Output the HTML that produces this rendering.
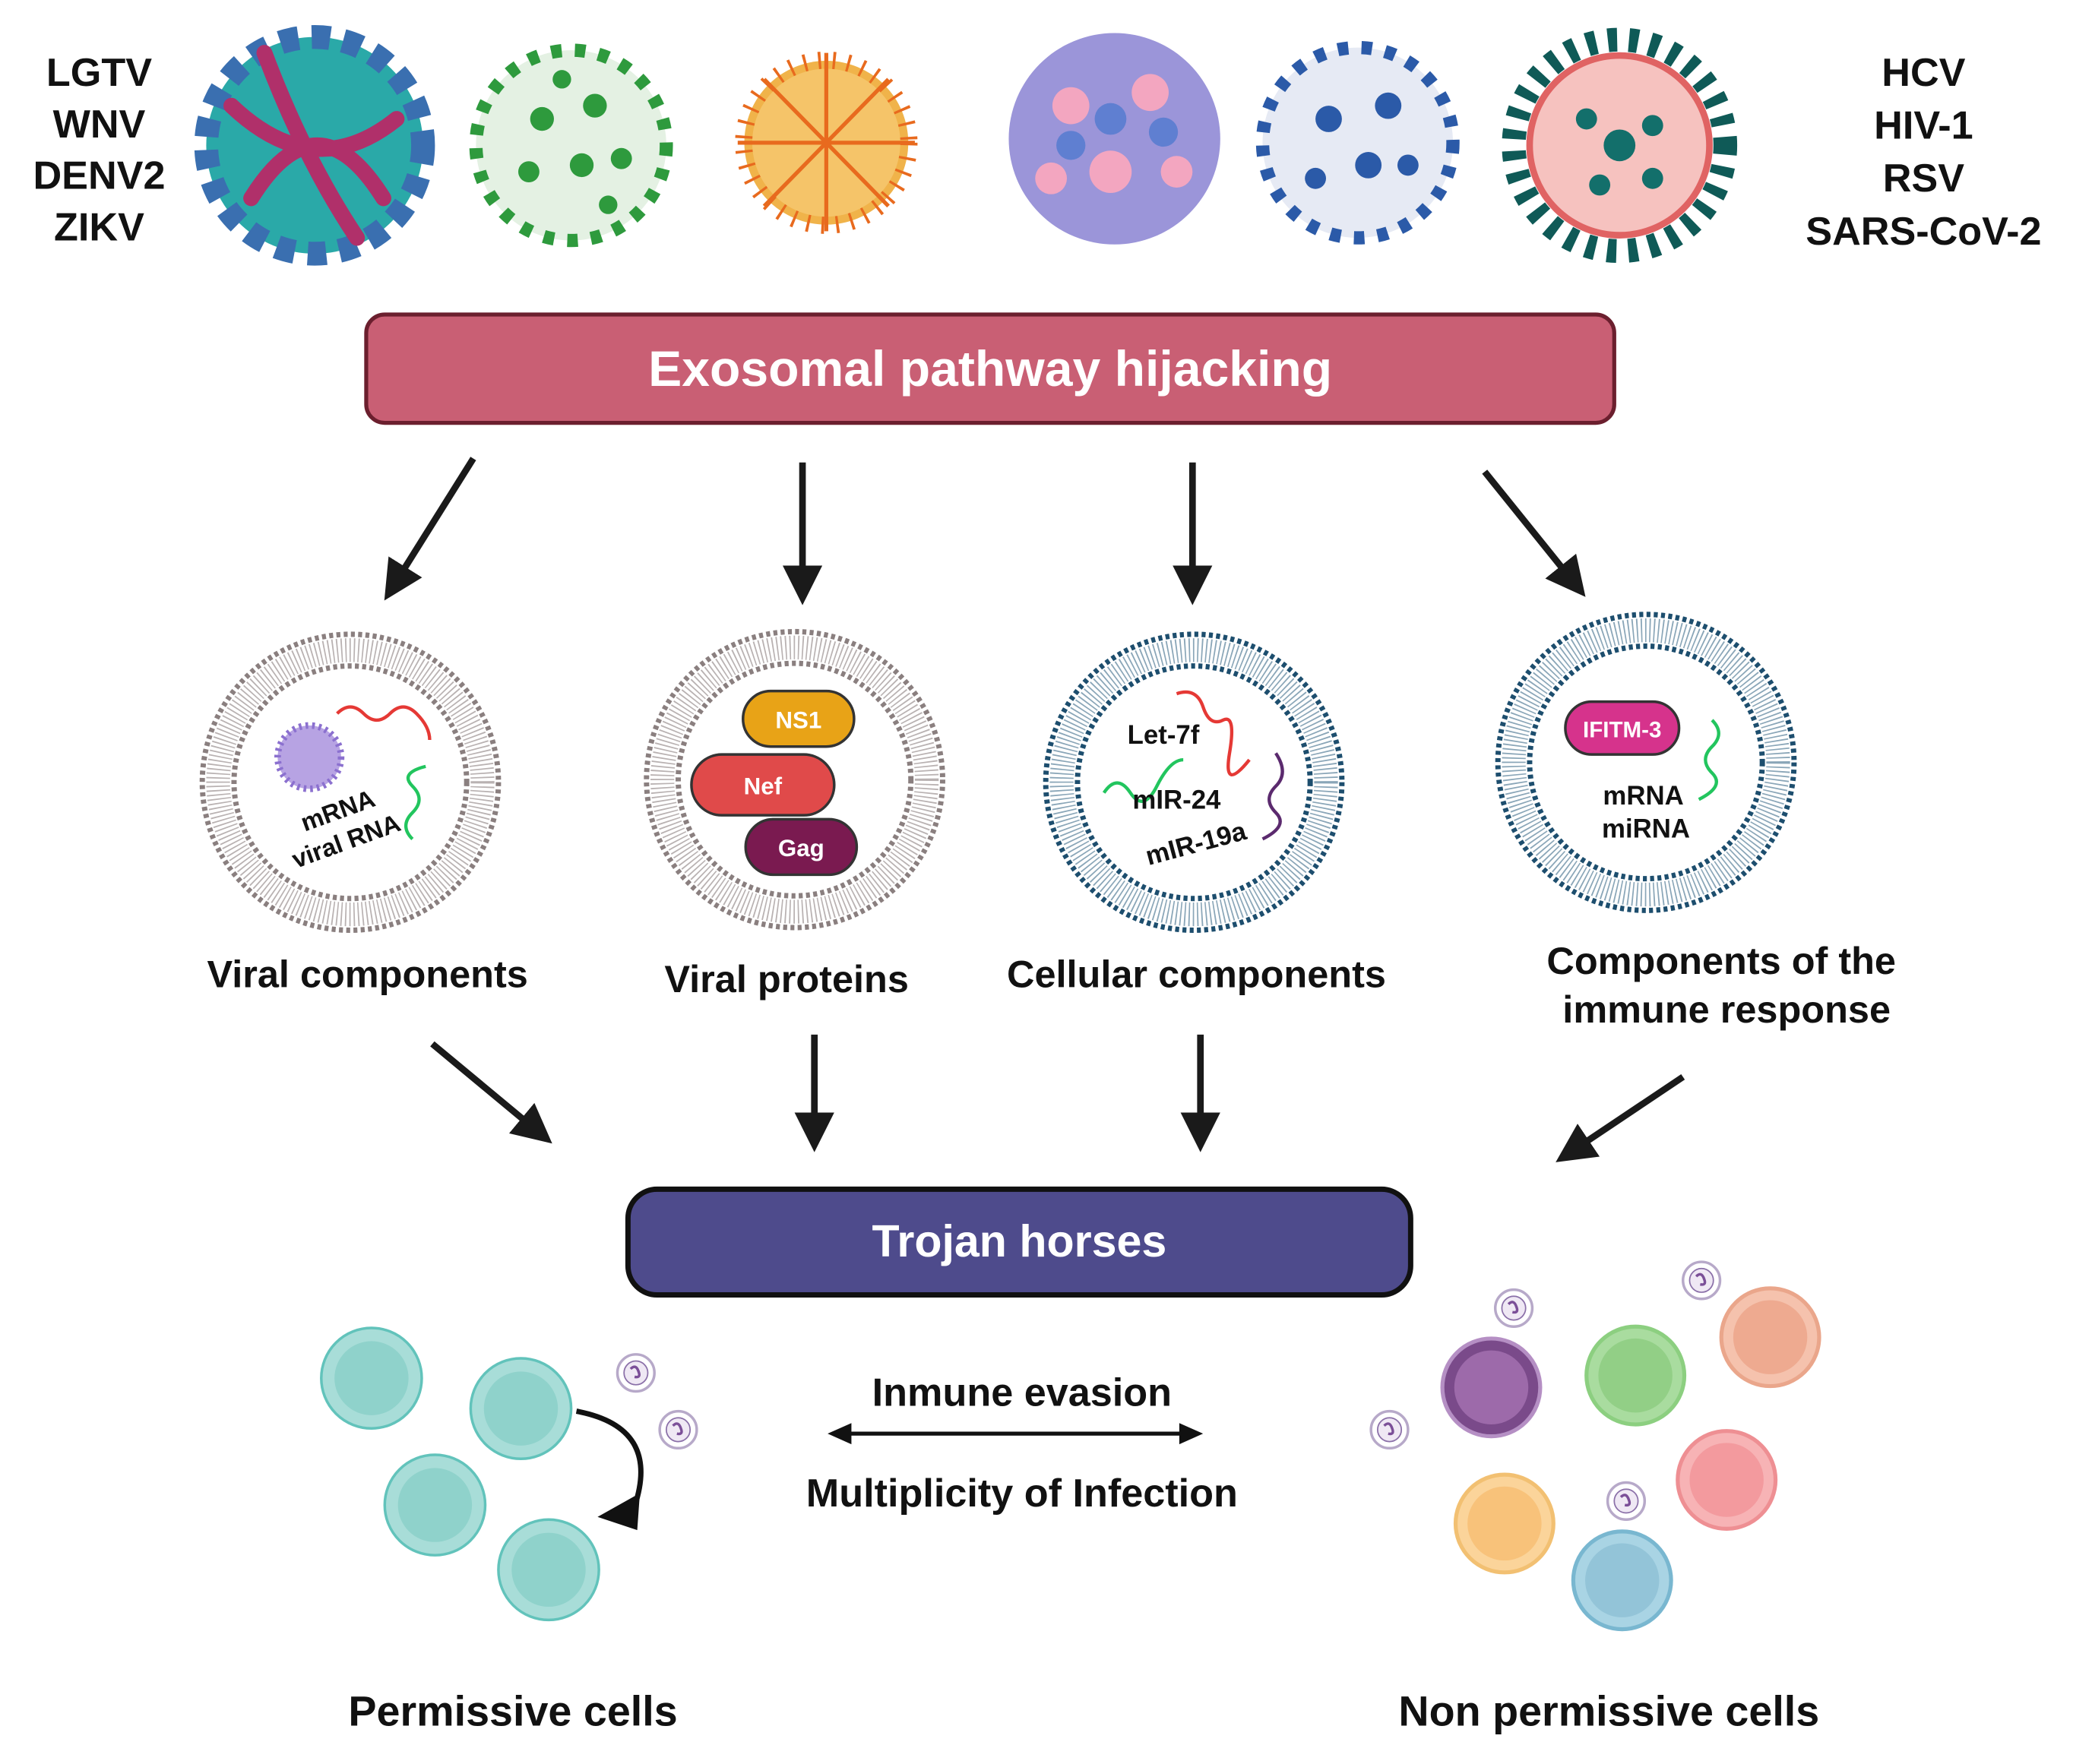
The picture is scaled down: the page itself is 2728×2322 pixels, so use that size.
<!DOCTYPE html>
<html><head><meta charset="utf-8"><style>html,body{margin:0;padding:0;background:#fff}svg{display:block}text{font-family:"Liberation Sans",sans-serif;font-weight:bold}</style></head><body>
<svg width="2728" height="2322" viewBox="0 0 1568 1335" preserveAspectRatio="none" xmlns="http://www.w3.org/2000/svg">
<defs>
<marker id="ah" markerWidth="6" markerHeight="6" refX="4" refY="3" orient="auto" markerUnits="strokeWidth"><path d="M0,0 L6,3 L0,6 z" fill="#1a1a1a"/></marker>
<g id="memG">
<circle r="112" fill="none" stroke="#8a7f7f" stroke-width="4" stroke-dasharray="3 2.5"/>
<circle r="100" fill="none" stroke="#b9b2b2" stroke-width="18" stroke-dasharray="1 2.2"/>
<circle r="88" fill="none" stroke="#8a7f7f" stroke-width="4" stroke-dasharray="3 2.5"/>
<circle r="85" fill="#fff"/>
</g>
<g id="memB">
<circle r="112" fill="none" stroke="#1d4e6e" stroke-width="4" stroke-dasharray="3 2.5"/>
<circle r="100" fill="none" stroke="#8aa6b8" stroke-width="18" stroke-dasharray="1 2.2"/>
<circle r="88" fill="none" stroke="#1d4e6e" stroke-width="4" stroke-dasharray="3 2.5"/>
<circle r="85" fill="#fff"/>
</g>
<g id="exo"><circle r="14" fill="#fff" stroke="#b7a9c9" stroke-width="2"/><circle r="9" fill="#efe8f4" stroke="#8a6fa8" stroke-width="1"/><path d="M-4,-3 q4,-4 6,2 q2,5 -3,4" stroke="#7b4f98" stroke-width="2" fill="none"/></g>
</defs>
<g font-size="30" text-anchor="middle" fill="#111">
<text x="75" y="65">LGTV</text><text x="75" y="104">WNV</text><text x="75" y="143">DENV2</text><text x="75" y="182">ZIKV</text>
<text x="1455" y="65">HCV</text><text x="1455" y="105">HIV-1</text><text x="1455" y="145">RSV</text><text x="1455" y="185">SARS-CoV-2</text>
</g>
<!-- viruses -->
<circle cx="238" cy="110" r="82" fill="#2aa9a8"/><circle cx="238" cy="110" r="82" fill="none" stroke="#3a6fb0" stroke-width="18" stroke-dasharray="14 10"/>
<path d="M175,80 Q238,140 300,90 M190,150 Q240,70 290,150 M200,40 Q230,120 270,180" stroke="#b0306a" stroke-width="12" fill="none" stroke-linecap="round"/>
<circle cx="432" cy="110" r="72" fill="#e4f1e3" stroke="#2e9a3d" stroke-width="10" stroke-dasharray="8 10"/>
<g fill="#2e9a3d"><circle cx="410" cy="90" r="9"/><circle cx="450" cy="80" r="9"/><circle cx="440" cy="125" r="9"/><circle cx="400" cy="130" r="8"/><circle cx="470" cy="120" r="8"/><circle cx="425" cy="60" r="7"/><circle cx="460" cy="155" r="7"/></g>
<circle cx="625" cy="108" r="62" fill="#f0b34a" stroke="#e86a1e" stroke-width="14" stroke-dasharray="2 9"/>
<circle cx="625" cy="108" r="56" fill="#f5c469"/>
<g stroke="#e86a1e" stroke-width="3"><path d="M625,40 V175 M558,108 H692 M578,60 L672,156 M672,60 L578,156"/></g>
<circle cx="843" cy="105" r="80" fill="#9b95d9"/>
<g fill="#f3a6c0"><circle cx="810" cy="80" r="14"/><circle cx="870" cy="70" r="14"/><circle cx="840" cy="130" r="16"/><circle cx="890" cy="130" r="12"/><circle cx="795" cy="135" r="12"/></g>
<g fill="#5f7fd1"><circle cx="840" cy="90" r="12"/><circle cx="880" cy="100" r="11"/><circle cx="810" cy="110" r="11"/></g>
<circle cx="1027" cy="108" r="72" fill="#e6eaf4" stroke="#2b5aa8" stroke-width="10" stroke-dasharray="8 10"/>
<g fill="#2b5aa8"><circle cx="1005" cy="90" r="10"/><circle cx="1050" cy="80" r="10"/><circle cx="1035" cy="125" r="10"/><circle cx="995" cy="135" r="8"/><circle cx="1065" cy="125" r="8"/></g>
<circle cx="1225" cy="110" r="80" fill="none" stroke="#0f5a57" stroke-width="18" stroke-dasharray="7 9"/>
<circle cx="1225" cy="110" r="68" fill="#f6c2bf" stroke="#e06363" stroke-width="5"/>
<g fill="#136f6b"><circle cx="1225" cy="110" r="12"/><circle cx="1200" cy="90" r="8"/><circle cx="1250" cy="95" r="8"/><circle cx="1210" cy="140" r="8"/><circle cx="1250" cy="135" r="8"/></g>
<!-- exosomal box -->
<rect x="277" y="238" width="944" height="82" rx="14" fill="#c95f74" stroke="#6b1f2e" stroke-width="3"/>
<text x="749" y="292" font-size="38" fill="#fff" text-anchor="middle">Exosomal pathway hijacking</text>
<g stroke="#1a1a1a" stroke-width="5" marker-end="url(#ah)">
<line x1="358" y1="347" x2="296" y2="446"/><line x1="607" y1="350" x2="607" y2="448"/><line x1="902" y1="350" x2="902" y2="448"/><line x1="1123" y1="357" x2="1193" y2="444"/>
<line x1="327" y1="790" x2="410" y2="859"/><line x1="616" y1="783" x2="616" y2="862"/><line x1="908" y1="783" x2="908" y2="862"/><line x1="1273" y1="815" x2="1185" y2="874"/>
</g>
<!-- vesicles -->
<use href="#memG" x="265" y="592"/><use href="#memG" x="601" y="590"/><use href="#memB" x="903" y="592"/><use href="#memB" x="1245" y="577"/>
<circle cx="234" cy="573" r="24" fill="#b7a3e3" stroke="#8b70cf" stroke-width="5" stroke-dasharray="2 3"/>
<path d="M255,540 q10,-10 20,0 t20,0 t20,0 t10,20" stroke="#e53935" stroke-width="2.5" fill="none"/>
<path d="M312,635 q-10,-10 0,-20 t0,-20 t10,-15" stroke="#22c55e" stroke-width="2.5" fill="none"/>
<text x="255" y="620" font-size="19" text-anchor="middle" transform="rotate(-20 255 612)" fill="#111">mRNA</text>
<text x="262" y="643" font-size="19" text-anchor="middle" transform="rotate(-20 262 637)" fill="#111">viral RNA</text>
<rect x="562" y="523" width="84" height="42" rx="21" fill="#e8a317" stroke="#333" stroke-width="2"/><text x="604" y="551" font-size="18" fill="#fff" text-anchor="middle">NS1</text>
<rect x="523" y="571" width="108" height="46" rx="23" fill="#e04a4a" stroke="#333" stroke-width="2"/><text x="577" y="601" font-size="18" fill="#fff" text-anchor="middle">Nef</text>
<rect x="564" y="620" width="84" height="42" rx="21" fill="#7a1a50" stroke="#333" stroke-width="2"/><text x="606" y="648" font-size="18" fill="#fff" text-anchor="middle">Gag</text>
<path d="M890,525 q15,-5 20,10 t15,10 t5,25 t15,5" stroke="#e53935" stroke-width="2.5" fill="none"/>
<path d="M835,600 q10,-15 20,0 t20,-5 t20,-20" stroke="#22c55e" stroke-width="2.5" fill="none"/>
<path d="M965,570 q10,15 0,25 t0,20 t-10,20" stroke="#5b2a6e" stroke-width="2.5" fill="none"/>
<text x="880" y="563" font-size="20" text-anchor="middle" fill="#111">Let-7f</text>
<text x="890" y="612" font-size="20" text-anchor="middle" fill="#111">mIR-24</text>
<text x="905" y="645" font-size="20" text-anchor="middle" fill="#111" transform="rotate(-15 905 640)">mIR-19a</text>
<rect x="1184" y="531" width="86" height="40" rx="20" fill="#d6338c" stroke="#333" stroke-width="2"/><text x="1227" y="558" font-size="17" fill="#fff" text-anchor="middle" font-weight="normal">IFITM-3</text>
<path d="M1295,545 q10,10 0,20 t0,20 t-10,20" stroke="#22c55e" stroke-width="2.5" fill="none"/>
<text x="1243" y="609" font-size="20" text-anchor="middle" fill="#111">mRNA</text><text x="1245" y="634" font-size="20" text-anchor="middle" fill="#111">miRNA</text>
<g font-size="29" text-anchor="middle" fill="#111">
<text x="278" y="747">Viral components</text><text x="595" y="751">Viral proteins</text><text x="905" y="747">Cellular components</text>
<text x="1302" y="737">Components of the</text><text x="1306" y="774">immune response</text>
</g>
<rect x="475" y="900" width="592" height="80" rx="22" fill="#4e4b8c" stroke="#111" stroke-width="4"/>
<text x="771" y="951" font-size="34" fill="#fff" text-anchor="middle">Trojan horses</text>
<!-- permissive cells -->
<g fill="#a8ddd8" stroke="#62c3bb" stroke-width="2">
<circle cx="281" cy="1043" r="38"/><circle cx="394" cy="1066" r="38"/><circle cx="329" cy="1139" r="38"/><circle cx="415" cy="1188" r="38"/></g>
<g fill="#8fd2cb"><circle cx="281" cy="1043" r="28"/><circle cx="394" cy="1066" r="28"/><circle cx="329" cy="1139" r="28"/><circle cx="415" cy="1188" r="28"/></g>
<path d="M436,1068 Q500,1080 480,1140" stroke="#111" stroke-width="4" fill="none"/><path d="M452,1148 L484,1130 L482,1158 z" fill="#111"/>
<use href="#exo" x="481" y="1039"/><use href="#exo" x="513" y="1082"/>
<!-- non permissive -->
<circle cx="1128" cy="1050" r="37" fill="#7a4a8a" stroke="#b58fc4" stroke-width="3"/><circle cx="1128" cy="1050" r="28" fill="#9d6aaa"/>
<circle cx="1237" cy="1041" r="37" fill="#a9dc9f" stroke="#8ccf80" stroke-width="3"/><circle cx="1237" cy="1041" r="28" fill="#92cf86"/>
<circle cx="1339" cy="1012" r="37" fill="#f5c2ad" stroke="#eaa68b" stroke-width="3"/><circle cx="1339" cy="1012" r="28" fill="#eeaa90"/>
<circle cx="1306" cy="1120" r="37" fill="#f7b3b5" stroke="#ee8f93" stroke-width="3"/><circle cx="1306" cy="1120" r="28" fill="#f39a9e"/>
<circle cx="1138" cy="1153" r="37" fill="#fbd49a" stroke="#f2c072" stroke-width="3"/><circle cx="1138" cy="1153" r="28" fill="#f8c27a"/>
<circle cx="1227" cy="1196" r="37" fill="#a9d4e4" stroke="#79b7d0" stroke-width="3"/><circle cx="1227" cy="1196" r="28" fill="#93c4d8"/>
<use href="#exo" x="1145" y="990"/><use href="#exo" x="1287" y="969"/><use href="#exo" x="1051" y="1082"/><use href="#exo" x="1230" y="1136"/>
<text x="773" y="1064" font-size="30" text-anchor="middle" fill="#111">Inmune evasion</text>
<line x1="640" y1="1085" x2="896" y2="1085" stroke="#111" stroke-width="3"/>
<path d="M626,1085 L644,1077 L644,1093 z M910,1085 L892,1077 L892,1093 z" fill="#111"/>
<text x="773" y="1140" font-size="30" text-anchor="middle" fill="#111">Multiplicity of Infection</text>
<text x="388" y="1306" font-size="32" text-anchor="middle" fill="#111">Permissive cells</text>
<text x="1217" y="1306" font-size="32" text-anchor="middle" fill="#111">Non permissive cells</text>
</svg>
</body></html>
